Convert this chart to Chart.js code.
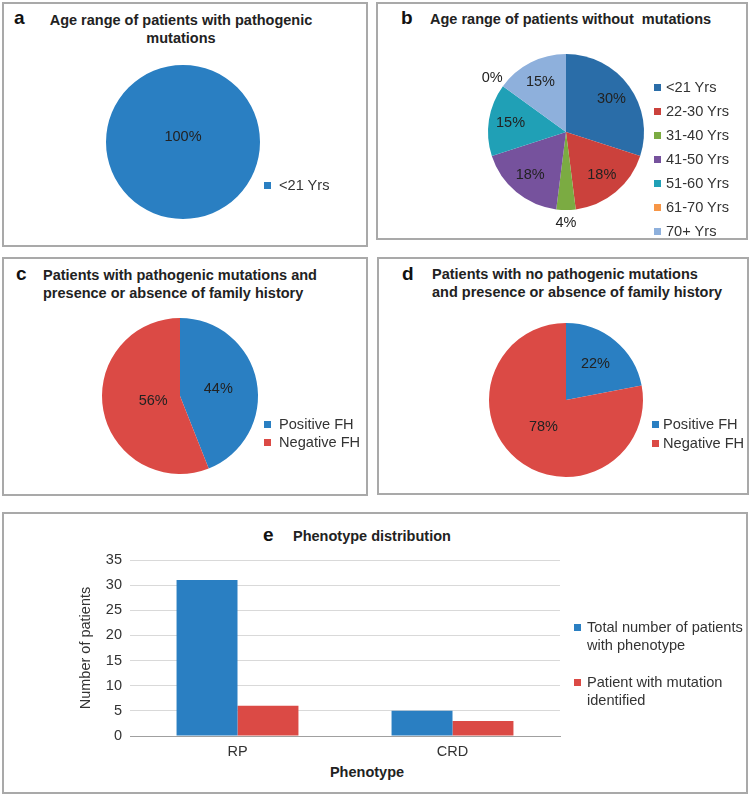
<!DOCTYPE html>
<html><head><meta charset="utf-8">
<script src="https://cdn.jsdelivr.net/npm/chart.js@4"></script>
<style>
body{margin:0;background:#fff;font-family:"Liberation Sans",Arial,sans-serif;color:#222}
#root{position:relative;width:750px;height:795px;overflow:hidden;background:#fff}
.panel{position:absolute;border:2px solid #a9a9a9;box-sizing:border-box}
.abs{position:absolute;white-space:nowrap}
.letter{font-weight:bold;font-size:19px;line-height:22px;color:#111}
.title{font-weight:bold;font-size:14.5px;line-height:18px;color:#222}
.leg{position:absolute;font-size:14.6px;line-height:18px;color:#333}
.sq{position:absolute;width:7px;height:7px}
canvas{position:absolute}
</style></head>
<body><div id="root">
<div class="panel" style="left:2px;top:2px;width:366px;height:245px"></div>
<div class="panel" style="left:376px;top:2px;width:372px;height:238px"></div>
<div class="panel" style="left:2px;top:257px;width:366px;height:239px"></div>
<div class="panel" style="left:377px;top:257px;width:372px;height:238px"></div>
<div class="panel" style="left:2px;top:512px;width:746px;height:282px"></div>

<div class="abs letter" style="left:14px;top:7px">a</div>
<div class="abs title" style="left:0px;width:362px;top:11px;text-align:center;white-space:normal">Age range of patients with pathogenic<br>mutations</div>
<div class="abs letter" style="left:401px;top:7px">b</div>
<div class="abs title" style="left:430px;top:10px">Age range of patients without&nbsp; mutations</div>
<div class="abs letter" style="left:16px;top:263px">c</div>
<div class="abs title" style="left:43px;top:266px">Patients with pathogenic mutations and<br>presence or absence of family history</div>
<div class="abs letter" style="left:402px;top:263px">d</div>
<div class="abs title" style="left:432px;top:265px">Patients with no pathogenic mutations<br>and presence or absence of family history</div>
<div class="abs letter" style="left:263px;top:524px">e</div>
<div class="abs title" style="left:293px;top:527px">Phenotype distribution</div>
<div class="abs title" style="left:317px;width:100px;text-align:center;top:763px">Phenotype</div>

<canvas id="pa" width="240" height="240" style="left:63px;top:22px;width:240px;height:240px"></canvas>
<canvas id="pb" width="240" height="240" style="left:446px;top:12px;width:240px;height:240px"></canvas>
<canvas id="pc" width="240" height="240" style="left:60px;top:276px;width:240px;height:240px"></canvas>
<canvas id="pd" width="240" height="240" style="left:446px;top:280px;width:240px;height:240px"></canvas>
<canvas id="be" width="750" height="290" style="left:0px;top:505px;width:750px;height:290px"></canvas>
</div>
<script>
// ---- data ----
const ageLabelsA = ['<21 Yrs'];
const ageValuesA = [100];
const ageLabelsB = ['<21 Yrs','22-30 Yrs','31-40 Yrs','41-50 Yrs','51-60 Yrs','61-70 Yrs','70+ Yrs'];
const ageValuesB = [30, 18, 4, 18, 15, 0, 15];
const fhLabels = ['Positive FH','Negative FH'];
const fhValuesC = [44, 56];
const fhValuesD = [22, 78];
const phenotypes = ['RP','CRD'];
const totalWithPhenotype = [31, 5];
const withMutation = [6, 3];
const barSeries = ['Total number of patients with phenotype','Patient with mutation identified'];

// ---- styles ----
const BLUE = '#2a7fc2', RED = '#db4a45';
const colorsB = ['#2a6da8','#cb413c','#7bab42','#76529d','#20a0b6','#f79646','#8eb0dc'];
Chart.defaults.font.family = '"Liberation Sans", Arial, sans-serif';
Chart.defaults.font.size = 14;
Chart.defaults.color = '#333';

const pctLabels = {
  id: 'pctLabels',
  afterDatasetsDraw(chart, args, opts) {
    const ctx = chart.ctx;
    const meta = chart.getDatasetMeta(0);
    const ds = chart.data.datasets[0].data;
    const total = ds.reduce((a, b) => a + b, 0);
    ctx.save();
    ctx.font = '14.5px "Liberation Sans", Arial, sans-serif';
    ctx.fillStyle = '#222';
    ctx.textAlign = 'center';
    ctx.textBaseline = 'middle';
    meta.data.forEach((arc, i) => {
      const p = arc.getProps(['x','y','startAngle','endAngle','outerRadius'], true);
      const share = ds[i] / total;
      let px, py;
      if (share > 0.999) { px = p.x; py = p.y + (opts.fullDy || 0); }
      else {
        const mid = (p.startAngle + p.endAngle) / 2;
        const inner = Array.isArray(opts.inner) ? opts.inner[i] : opts.inner;
        const f = share < 0.05 ? opts.outer : inner;
        px = p.x + Math.cos(mid) * p.outerRadius * f;
        py = p.y + Math.sin(mid) * p.outerRadius * f;
      }
      ctx.fillText(ds[i] + '%', px, py);
    });
    ctx.restore();
  }
};

function makePie(id, r, labels, values, colors, lab) {
  new Chart(document.getElementById(id), {
    type: 'pie',
    data: { labels: labels, datasets: [{ data: values, backgroundColor: colors,
      borderWidth: 0, hoverBorderWidth: 0, hoverOffset: 0, offset: 0 }] },
    options: {
      responsive: false, animation: false, events: [],
      layout: { padding: 120 - r },
      plugins: { legend: { display: false }, tooltip: { enabled: false }, pctLabels: lab }
    },
    plugins: [pctLabels]
  });
}

makePie('pa', 77, ageLabelsA, ageValuesA, [BLUE], { fullDy: -5, inner: 0.5, outer: 1.17 });
makePie('pb', 78, ageLabelsB, ageValuesB, colorsB, { inner: 0.72, outer: 1.17 });
makePie('pc', 78, fhLabels, fhValuesC, [BLUE, RED], { inner: [0.5, 0.35], outer: 1.17 });
makePie('pd', 77, fhLabels, fhValuesD, [BLUE, RED], { inner: [0.6, 0.46], outer: 1.17 });

// ---- HTML legends built from the label arrays ----
const root = document.getElementById('root');
function legend(labels, colors, sqx, textX, y0, dy, width) {
  labels.forEach((t, i) => {
    const cy = y0 + dy * i;
    const s = document.createElement('div');
    s.className = 'sq';
    s.style.left = (sqx - 3.5) + 'px'; s.style.top = (cy - 3.5) + 'px';
    s.style.background = colors[i];
    root.appendChild(s);
    const d = document.createElement('div');
    d.className = 'leg';
    d.style.left = textX + 'px'; d.style.top = (cy - 9) + 'px';
    if (width) { d.style.width = width + 'px'; d.style.whiteSpace = 'normal'; }
    else d.style.whiteSpace = 'nowrap';
    d.textContent = t;
    root.appendChild(d);
  });
}
legend(ageLabelsA, [BLUE], 267, 279, 185, 0);
legend(ageLabelsB, colorsB, 657, 666, 87, 24);
legend(fhLabels, [BLUE, RED], 267, 279, 424, 18);
legend(fhLabels, [BLUE, RED], 655, 663, 424, 19);
legend(barSeries, [BLUE, RED], 577, 587, 627, 55, 165);

// ---- bar chart ----
new Chart(document.getElementById('be'), {
  type: 'bar',
  data: { labels: phenotypes, datasets: [
    { label: barSeries[0], data: totalWithPhenotype, backgroundColor: BLUE },
    { label: barSeries[1], data: withMutation, backgroundColor: RED }
  ]},
  options: {
    responsive: false, animation: false, events: [],
    layout: { padding: { left: 0, top: 55, right: 190, bottom: 0 } },
    datasets: { bar: { categoryPercentage: 0.567, barPercentage: 1 } },
    plugins: { legend: { display: false }, tooltip: { enabled: false } },
    scales: {
      x: {
        grid: { display: false, drawTicks: false },
        border: { display: true, color: '#a0a0a0' },
        ticks: { color: '#333', padding: 7, font: { size: 14.5 } },
        afterFit(s) { s.height = 59; }
      },
      y: {
        min: 0, max: 35,
        ticks: { stepSize: 5, color: '#333', padding: 8, font: { size: 14.5 } },
        grid: { color: '#d9d9d9', drawTicks: false },
        border: { display: false },
        title: { display: true, text: 'Number of patients', color: '#333', font: { size: 14.5 }, padding: { top: 77, bottom: 0 } },
        afterFit(s) { s.width = 130; }
      }
    }
  }
});
</script>
</body></html>
